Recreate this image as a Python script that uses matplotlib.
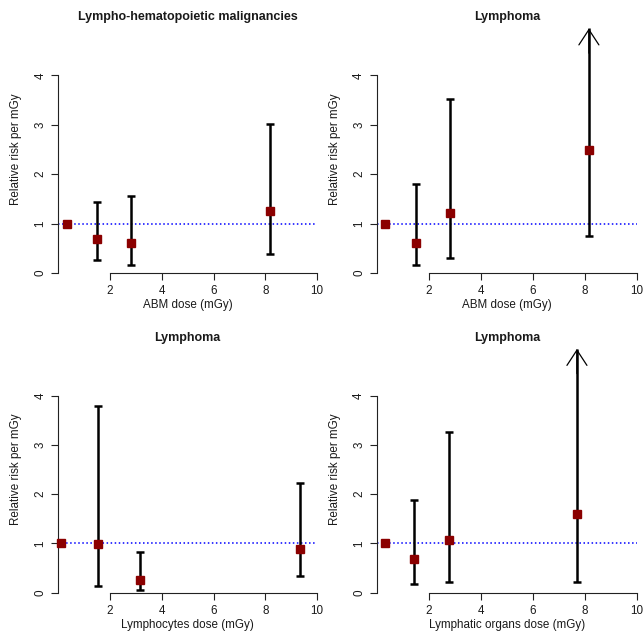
import numpy as np
import matplotlib
matplotlib.use("Agg")
import matplotlib.pyplot as plt

plt.rcParams['font.family'] = ['Liberation Sans', 'DejaVu Sans']

titles = ["Lympho-hematopoietic malignancies", "Lymphoma", "Lymphoma", "Lymphoma"]
xlabels = ["ABM dose (mGy)", "ABM dose (mGy)", "Lymphocytes dose (mGy)", "Lymphatic organs dose (mGy)"]
ylabel = "Relative risk per mGy"

dose_1 = [0.33, 1.48, 2.80, 8.17]
rr_1 = [1.00, 0.69, 0.60, 1.25]
lo_1 = [None, 0.27, 0.155, 0.39]
hi_1 = [None, 1.44, 1.55, 3.02]

dose_2 = [0.32, 1.51, 2.79, 8.15]
rr_2 = [1.00, 0.61, 1.22, 2.48]
lo_2 = [None, 0.155, 0.31, 0.74]
hi_2 = [None, 1.80, 3.53, np.inf]

dose_3 = [0.09, 1.54, 3.16, 9.36]
rr_3 = [1.00, 0.99, 0.25, 0.88]
lo_3 = [None, 0.14, 0.05, 0.33]
hi_3 = [None, 3.79, 0.82, 2.23]

dose_4 = [0.32, 1.41, 2.77, 7.69]
rr_4 = [1.00, 0.68, 1.08, 1.59]
lo_4 = [None, 0.18, 0.22, 0.22]
hi_4 = [None, 1.88, 3.26, np.inf]

reference_rr = 1.0
arrow_top = 4.95
x_ticks = [2, 4, 6, 8, 10]
y_ticks = [0, 1, 2, 3, 4]

panels = [
    (dose_1, rr_1, lo_1, hi_1),
    (dose_2, rr_2, lo_2, hi_2),
    (dose_3, rr_3, lo_3, hi_3),
    (dose_4, rr_4, lo_4, hi_4),
]

W, H = 644, 631
fig = plt.figure(figsize=(W / 100, H / 100), dpi=100)

# axes rectangles in pixels: (left, right, top(y=5), bottom(y=0))
rects = [
    (58.3, 317.0, 26.0, 273.0),
    (377.0, 637.0, 26.0, 273.0),
    (58.3, 317.0, 346.5, 592.7),
    (377.0, 637.0, 346.5, 592.7),
]
title_y = [17, 17, 338, 338]

txtc = '#1a1a1a'
for i, (d, rr, lo, hi) in enumerate(panels):
    l, r, t, b = rects[i]
    ax = fig.add_axes([l / W, 1 - b / H, (r - l) / W, (b - t) / H])
    ax.set_xlim(0, 10)
    ax.set_ylim(0, 5)
    for s in ['top', 'right']:
        ax.spines[s].set_visible(False)
    ax.spines['left'].set_bounds(0, 4)
    ax.spines['bottom'].set_bounds(2, 10)
    for s in ['left', 'bottom']:
        ax.spines[s].set_color('#222222')
        ax.spines[s].set_linewidth(0.8)
    ax.set_xticks(x_ticks)
    ax.set_yticks(y_ticks)
    ax.tick_params(axis='both', length=5, width=0.8, color='#222222',
                   labelsize=8.4, labelcolor=txtc)
    ax.tick_params(axis='x', pad=4)
    ax.tick_params(axis='y', pad=3.5)
    for lab in ax.get_yticklabels():
        lab.set_rotation(90)
        lab.set_va('center')
    ax.set_xlabel(xlabels[i], fontsize=8.4, color=txtc, labelpad=1)
    ax.set_ylabel(ylabel, fontsize=8.4, color=txtc, labelpad=9)

    ax.axhline(reference_rr, color='#0000ff', lw=1.1, ls=':', zorder=1)

    for xv, yv, lv, hv in zip(d, rr, lo, hi):
        if lv is None:
            continue
        if np.isinf(hv):
            ax.vlines(xv, lv, arrow_top, color='black', lw=1.8, zorder=2, clip_on=False)
            ax.hlines(lv, xv - 0.14, xv + 0.14, color='black', lw=1.8, zorder=2)
            ax.annotate('', xy=(xv, arrow_top), xytext=(xv, arrow_top - 0.5),
                        arrowprops=dict(arrowstyle='->,head_length=1.1,head_width=0.72',
                                        lw=0.9, color='black', shrinkA=0, shrinkB=0),
                        annotation_clip=False, zorder=2)
        else:
            ax.errorbar(xv, yv, yerr=[[yv - lv], [hv - yv]], fmt='none',
                        ecolor='black', elinewidth=1.8, capsize=2.9, capthick=1.8,
                        zorder=2, clip_on=False)
    ax.plot(d, rr, ls='none', marker='s', markersize=5.8, color='#8b0000',
            markeredgecolor='#8b0000', zorder=3, clip_on=False)

    fig.text((l + r) / 2 / W, 1 - title_y[i] / H, titles[i], ha='center', va='center',
             fontsize=9, fontweight='bold', color=txtc)

fig.savefig('out.png', dpi=100)
